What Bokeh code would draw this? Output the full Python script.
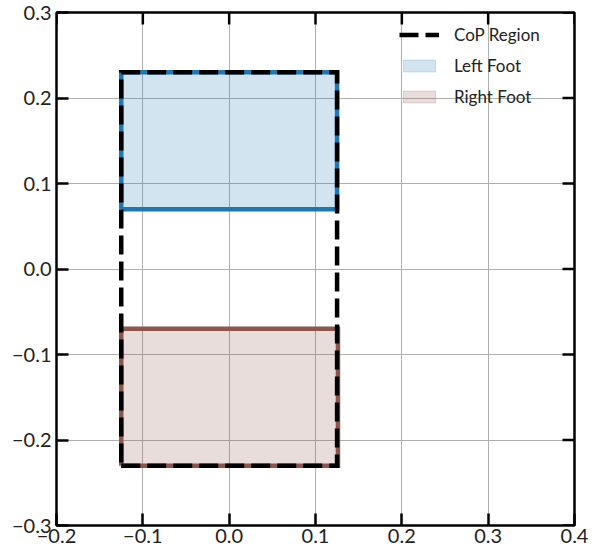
from bokeh.plotting import figure
from bokeh.models import (FixedTicker, CustomJSTickFormatter, Legend, LegendItem, Range1d)
from bokeh.embed import file_html
from bokeh.resources import INLINE

# ---- data ----
left_foot_x = [-0.125, 0.125]
left_foot_y = [0.07, 0.23]
right_foot_x = [-0.125, 0.126]
right_foot_y = [-0.23, -0.07]
cop_x = [-0.125, 0.125, 0.125, -0.125, -0.125]
cop_y = [-0.23, -0.23, 0.23, 0.23, -0.23]
x_lim = [-0.2, 0.4]
y_lim = [-0.3, 0.3]
x_ticks = [-0.2, -0.1, 0.0, 0.1, 0.2, 0.3, 0.4]
y_ticks = [-0.3, -0.2, -0.1, 0.0, 0.1, 0.2, 0.3]
labels = ["CoP Region", "Left Foot", "Right Foot"]

BLUE = "#1f77b4"
BROWN = "#8c564b"
FONT = "Lato"

p = figure(frame_width=518, frame_height=513, output_backend="svg", toolbar_location=None,
           x_range=Range1d(*x_lim), y_range=Range1d(*y_lim),
           min_border_left=56, min_border_right=15, min_border_top=12, min_border_bottom=27)
p.background_fill_color = "white"
p.border_fill_color = "white"
p.outline_line_color = "black"
p.outline_line_width = 2.5

fmt = CustomJSTickFormatter(code="return tick.toFixed(1).replace('-', '\u2212');")

for ax, ticks in ((p.xaxis[0], x_ticks), (p.yaxis[0], y_ticks)):
    ax.ticker = FixedTicker(ticks=ticks)
    ax.formatter = fmt
    ax.major_tick_in = 12
    ax.major_tick_out = 0
    ax.minor_tick_line_color = None
    ax.major_tick_line_color = "black"
    ax.major_tick_line_width = 2.5
    ax.axis_line_color = None
    ax.major_label_text_font = FONT
    ax.major_label_text_color = "#222222"
    ax.major_label_text_font_size = "20px"
p.xaxis.major_label_standoff = 3
p.yaxis.major_label_standoff = 5

p.xgrid.ticker = FixedTicker(ticks=x_ticks)
p.ygrid.ticker = FixedTicker(ticks=y_ticks)
p.grid.grid_line_color = "#b0b0b0"
p.grid.grid_line_width = 1

# inward ticks on top and right frame edges (clipped to the frame, half visible)
p.rect(x=x_ticks, y=[y_lim[1]] * len(x_ticks), width=2.5, height=24,
       width_units="screen", height_units="screen", fill_color="black", line_color=None)
p.rect(x=[x_lim[1]] * len(y_ticks), y=y_ticks, width=24, height=2.5,
       width_units="screen", height_units="screen", fill_color="black", line_color=None)

# fills
lf = p.quad(left=left_foot_x[0], right=left_foot_x[1], bottom=left_foot_y[0], top=left_foot_y[1],
            fill_color=BLUE, fill_alpha=0.2, line_color=BLUE, line_alpha=0.2, line_width=1)
rf = p.quad(left=right_foot_x[0], right=right_foot_x[1], bottom=right_foot_y[0], top=right_foot_y[1],
            fill_color=BROWN, fill_alpha=0.2, line_color=BROWN, line_alpha=0.2, line_width=1)

# outlines
def box(xs, ys):
    return ([xs[0], xs[1], xs[1], xs[0], xs[0]], [ys[0], ys[0], ys[1], ys[1], ys[0]])

bx, by = box(left_foot_x, left_foot_y)
p.line(bx, by, line_color=BLUE, line_width=4.5, line_join="miter")
bx, by = box(right_foot_x, right_foot_y)
p.line(bx, by, line_color=BROWN, line_width=4.5, line_join="miter")

cop = p.line(cop_x, cop_y, line_color="black", line_width=4.5, line_dash="19 7", line_join="miter")

legend = Legend(items=[LegendItem(label=labels[0], renderers=[cop]),
                       LegendItem(label=labels[1], renderers=[lf]),
                       LegendItem(label=labels[2], renderers=[rf])],
                location=(343, 418), padding=0, margin=0, spacing=10,
                glyph_width=40, glyph_height=15, label_height=20, label_standoff=15,
                label_text_font=FONT, label_text_font_size="17px", label_text_color="#222222",
                background_fill_alpha=0, border_line_alpha=0)
p.add_layout(legend, "center")

open("out.html", "w").write(file_html(p, INLINE))
